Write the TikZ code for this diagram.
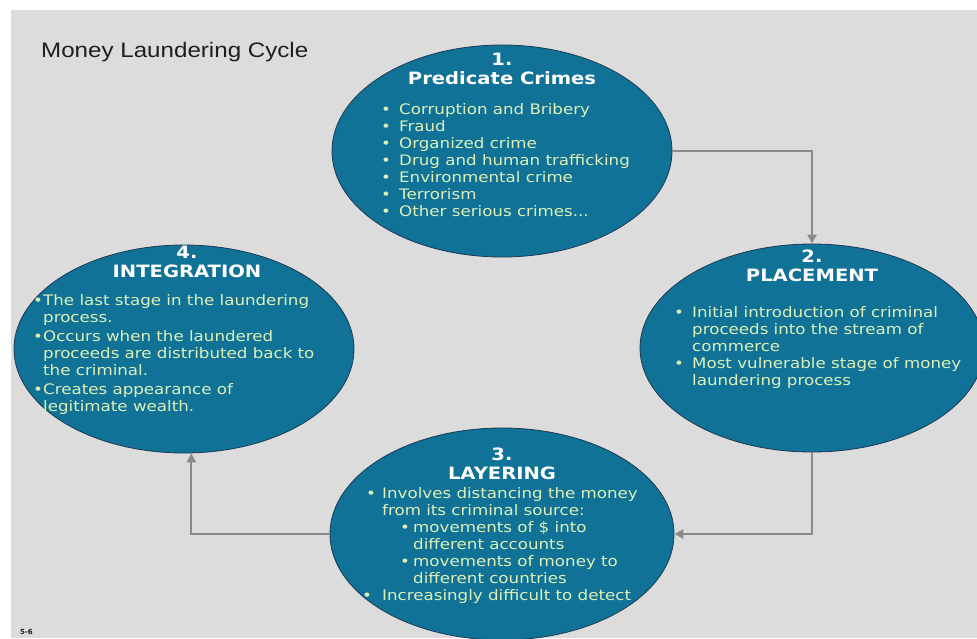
\documentclass[tikz,border=0pt]{standalone}
\usepackage{fontspec}
\setmainfont{DejaVu Sans}
\newfontfamily\bodyf[FakeStretch=1.15]{DejaVu Sans}
\newfontfamily\headf[FakeStretch=1.15]{Liberation Sans}
\usetikzlibrary{shapes.geometric,arrows.meta,calc}
\definecolor{bgc}{HTML}{DCDCDC}
\definecolor{ellf}{HTML}{0F7296}
\definecolor{elld}{HTML}{1C3A55}
\definecolor{txtc}{HTML}{DEF0B8}
\definecolor{arrc}{HTML}{8A8A8A}
\definecolor{headc}{HTML}{1E1E1E}
\newcommand\mybul[1]{\makebox[#1][l]{•}}
\tikzset{
  stage/.style={ellipse, draw=elld, line width=0.8pt, fill=ellf, inner sep=0pt},
  ttl/.style={anchor=base, inner sep=0pt, text=white, font=\bodyf\bfseries\fontsize{17}{19}\selectfont},
  body/.style={anchor=base west, inner sep=0pt, text=txtc, font=\bodyf\fontsize{14.5}{17}\selectfont},
  flow/.style={draw=arrc, line width=2.4pt, -{Triangle[length=9pt,width=9pt]}}
}
\begin{document}
\begin{tikzpicture}[x=1pt,y=-1pt]
\useasboundingbox (0,0) rectangle (977,638);
\clip (0,0) rectangle (977,638);
\fill[white] (0,0) rectangle (977,638);
\fill[bgc] (11,10) rectangle (977,638);

\node[anchor=base west, inner sep=0pt, text=headc, font=\headf\fontsize{21}{25}\selectfont] (H) at (41,57) {Money Laundering Cycle};

\node[stage, minimum width=340pt, minimum height=212pt] (E1) at (502,151) {};
\node[stage, minimum width=344pt, minimum height=208pt] (E2) at (812,348) {};
\node[stage, minimum width=344pt, minimum height=212pt] (E3) at (502,534) {};
\node[stage, minimum width=340pt, minimum height=208pt] (E4) at (184,349) {};

\draw[flow] (E1.east) -| (E2.north);
\draw[flow] (E2.south) |- (E3.east);
\draw[flow] (E3.west) -| (E4.-86);

\node[ttl] (T1) at (502,65) {\begin{tabular}[t]{@{}c@{}}1.\\Predicate Crimes\end{tabular}};
\node[ttl] (T2) at (812,262) {\begin{tabular}[t]{@{}c@{}}2.\\PLACEMENT\end{tabular}};
\node[ttl] (T3) at (502,460) {\begin{tabular}[t]{@{}c@{}}3.\\LAYERING\end{tabular}};
\node[ttl] (T4) at (187,258) {\begin{tabular}[t]{@{}c@{}}4.\\INTEGRATION\end{tabular}};

\node[body] (B1) at (381,114) {\begin{tabular}[t]{@{}l@{}}
\mybul{18pt}Corruption and Bribery\\
\mybul{18pt}Fraud\\
\mybul{18pt}Organized crime\\
\mybul{18pt}Drug and human trafficking\\
\mybul{18pt}Environmental crime\\
\mybul{18pt}Terrorism\\
\mybul{18pt}Other serious crimes...
\end{tabular}};

\node[body] (B2) at (674,317) {\begin{tabular}[t]{@{}l@{}}
\mybul{18pt}Initial introduction of criminal\\
\hspace{18pt}proceeds into the stream of\\
\hspace{18pt}commerce\\
\mybul{18pt}Most vulnerable stage of money\\
\hspace{18pt}laundering process
\end{tabular}};

\node[body] (B3) at (362,498) {\begin{tabular}[t]{@{}l@{}}
\hspace{4pt}\mybul{16pt}Involves distancing the money\\
\hspace{20pt}from its criminal source:\\
\hspace{38pt}\mybul{13pt}movements of \$ into\\
\hspace{51pt}different accounts\\
\hspace{38pt}\mybul{13pt}movements of money to\\
\hspace{51pt}different countries\\
\mybul{20pt}Increasingly difficult to detect
\end{tabular}};

\node[body] (B4) at (33,305) {\begin{tabular}[t]{@{}l@{}}
\mybul{10pt}The last stage in the laundering\\
\hspace{10pt}process.\\[2pt]
\mybul{10pt}Occurs when the laundered\\
\hspace{10pt}proceeds are distributed back to\\
\hspace{10pt}the criminal.\\[2pt]
\mybul{10pt}Creates appearance of\\
\hspace{10pt}legitimate wealth.
\end{tabular}};

\node[anchor=north west, inner sep=0pt, text=headc, font=\bfseries\fontsize{7}{8}\selectfont] (pg) at (20,629) {5-6};
\end{tikzpicture}
\end{document}
